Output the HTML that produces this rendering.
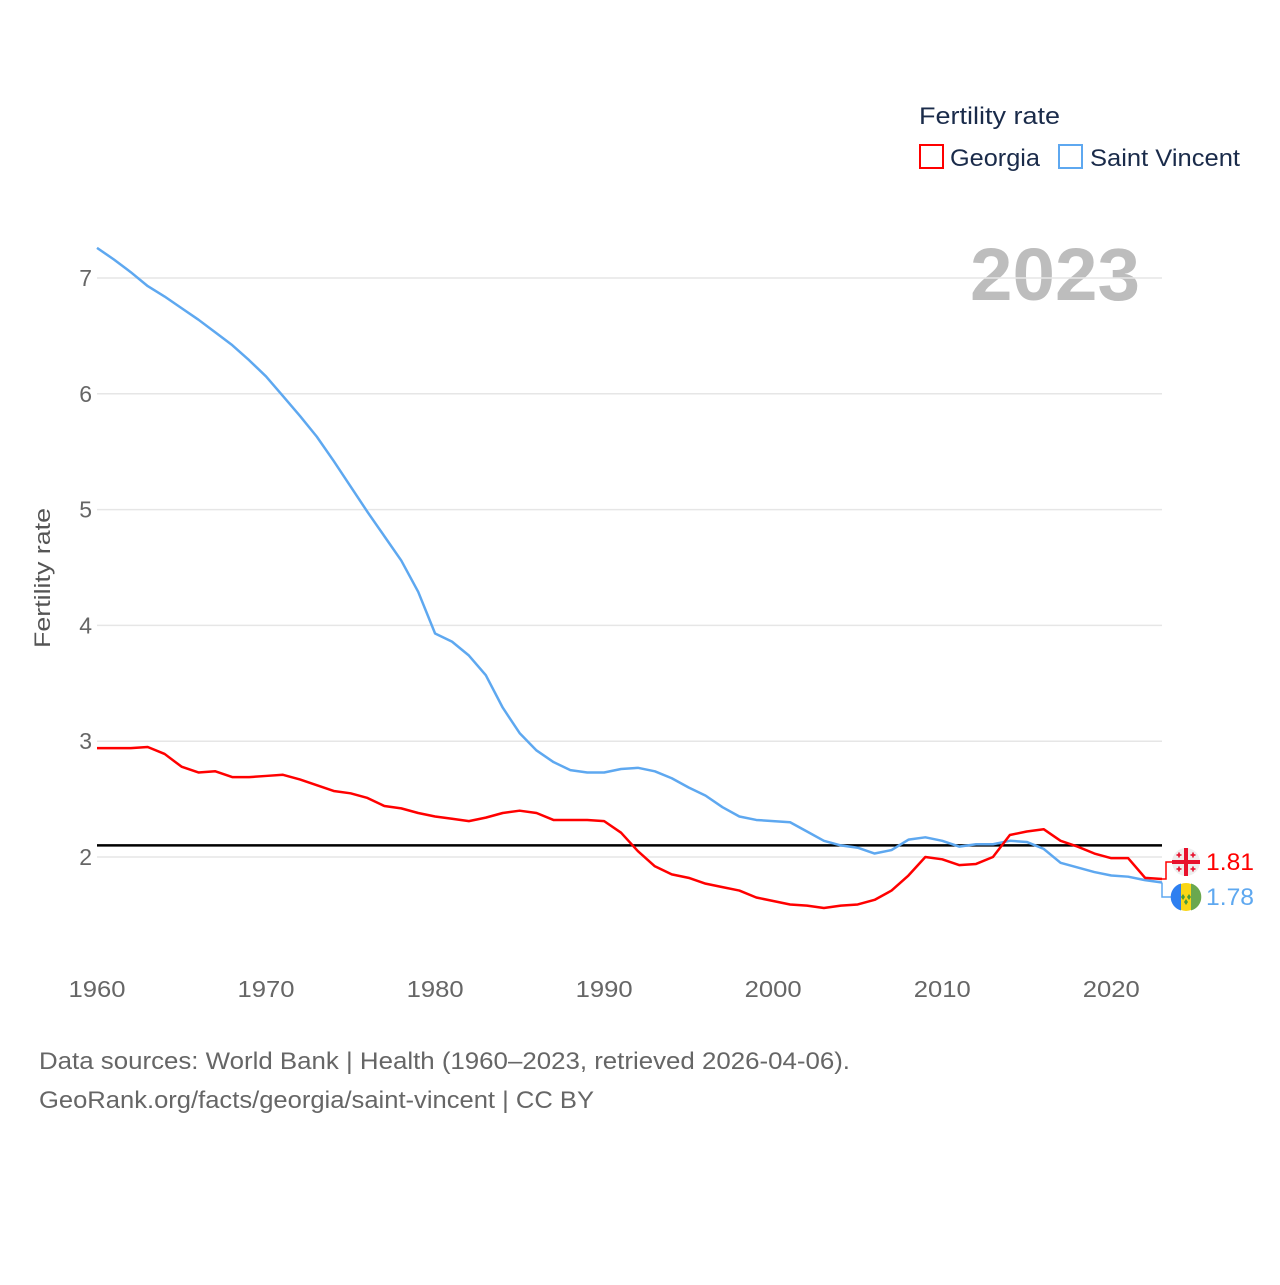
<!DOCTYPE html>
<html><head><meta charset="utf-8"><style>
body{margin:0;background:#fff;width:1280px;height:1280px;overflow:hidden;font-family:"Liberation Sans",sans-serif}
svg text{font-family:"Liberation Sans",sans-serif}
</style></head><body>
<svg id="chart" width="1280" height="1280" xmlns="http://www.w3.org/2000/svg">
<text x="1140" y="300" text-anchor="end" font-size="74" font-weight="bold" fill="#bdbdbd" textLength="170" lengthAdjust="spacingAndGlyphs">2023</text>
<g id="grid"></g>
<g id="yticks"></g>
<g id="xticks"></g>
<text transform="translate(50,578) rotate(-90)" text-anchor="middle" font-size="22" fill="#555" textLength="140" lengthAdjust="spacingAndGlyphs">Fertility rate</text>
<g id="series"></g>
<g>
<text x="919" y="124" font-size="24" fill="#1a2b4a" textLength="141" lengthAdjust="spacingAndGlyphs">Fertility rate</text>
<rect x="920" y="145" width="23" height="23" fill="none" stroke="#ff0000" stroke-width="2"/>
<text x="950" y="166" font-size="24" fill="#1a2b4a" textLength="90" lengthAdjust="spacingAndGlyphs">Georgia</text>
<rect x="1059" y="145" width="23" height="23" fill="none" stroke="#5ea8f0" stroke-width="2"/>
<text x="1090" y="166" font-size="24" fill="#1a2b4a" textLength="150" lengthAdjust="spacingAndGlyphs">Saint Vincent</text>
</g>
<text x="39" y="1069" font-size="24" fill="#666" textLength="811" lengthAdjust="spacingAndGlyphs">Data sources: World Bank | Health (1960–2023, retrieved 2026-04-06).</text>
<text x="39" y="1108" font-size="24" fill="#666" textLength="555" lengthAdjust="spacingAndGlyphs">GeoRank.org/facts/georgia/saint-vincent | CC BY</text>
</svg>
<script>
const years = [];
for (let y = 1960; y <= 2023; y++) years.push(y);
const georgia = [2.94,2.94,2.94,2.95,2.89,2.78,2.73,2.74,2.69,2.69,2.70,2.71,2.67,2.62,2.57,2.55,2.51,2.44,2.42,2.38,2.35,2.33,2.31,2.34,2.38,2.40,2.38,2.32,2.32,2.32,2.31,2.21,2.05,1.92,1.85,1.82,1.77,1.74,1.71,1.65,1.62,1.59,1.58,1.56,1.58,1.59,1.63,1.71,1.84,2.00,1.98,1.93,1.94,2.00,2.19,2.22,2.24,2.14,2.09,2.03,1.99,1.99,1.82,1.81];
const saintVincent = [7.26,7.16,7.05,6.93,6.84,6.74,6.64,6.53,6.42,6.29,6.15,5.98,5.81,5.63,5.42,5.20,4.98,4.77,4.56,4.29,3.93,3.86,3.74,3.57,3.29,3.07,2.92,2.82,2.75,2.73,2.73,2.76,2.77,2.74,2.68,2.60,2.53,2.43,2.35,2.32,2.31,2.30,2.22,2.14,2.10,2.08,2.03,2.06,2.15,2.17,2.14,2.09,2.11,2.11,2.14,2.13,2.07,1.95,1.91,1.87,1.84,1.83,1.80,1.78];
const yTicks = [2,3,4,5,6,7];
const xTicks = [1960,1970,1980,1990,2000,2010,2020];
const replacementRate = 2.1;
const NS = "http://www.w3.org/2000/svg";
const X0 = 97, X1 = 1162;
const xS = y => X0 + (y - 1960) * (X1 - X0) / (2023 - 1960);
const yS = v => 857 - (v - 2) * 115.8;
function mk(tag, attrs, parent) { const e = document.createElementNS(NS, tag); for (const k in attrs) e.setAttribute(k, attrs[k]); parent.appendChild(e); return e; }
const grid = document.getElementById('grid'), yt = document.getElementById('yticks'), xt = document.getElementById('xticks'), ser = document.getElementById('series');
yTicks.forEach(t => {
  const l = mk('line', {x1: X0, x2: X1, y1: yS(t), y2: yS(t), stroke: '#e6e6e6', 'stroke-width': 1.5}, grid);
  
  
  const tx = mk('text', {x: 92, y: yS(t) + 8, 'text-anchor': 'end', 'font-size': 23, fill: '#666'}, yt);
  tx.textContent = t;
  
  
});
xTicks.forEach(t => {
  const tx = mk('text', {x: xS(t), y: 997, 'text-anchor': 'middle', 'font-size': 23, fill: '#666', textLength: 57, lengthAdjust: 'spacingAndGlyphs'}, xt);
  tx.textContent = t;
  
  
});
const ref = mk('line', {x1: X0, x2: X1, y1: yS(replacementRate), y2: yS(replacementRate), stroke: '#000', 'stroke-width': 2.5}, ser);


function line(data, color, name) {
  const p = mk('polyline', {points: data.map((v, i) => xS(years[i]) + ',' + yS(v)).join(' '), fill: 'none', stroke: color, 'stroke-width': 2.5, 'stroke-linejoin': 'round'}, ser);
  
  
}
line(saintVincent, '#5ea8f0', 'line-saint-vincent');
line(georgia, '#ff0000', 'line-georgia');
const gLast = georgia[georgia.length - 1], sLast = saintVincent[saintVincent.length - 1];
const gy = 862, sy = 897;
const c1 = mk('polyline', {points: `${X1},${yS(gLast)} ${X1+4},${yS(gLast)} ${X1+4},${gy} ${X1+10},${gy}`, fill: 'none', stroke: '#ff0000', 'stroke-width': 1.5}, ser);


const c2 = mk('polyline', {points: `${X1},${yS(sLast)} ${X1},${sy} ${X1+10},${sy}`, fill: 'none', stroke: '#5ea8f0', 'stroke-width': 1.5}, ser);


const f1 = mk('g', {}, ser);


mk('circle', {cx: 1186, cy: gy, r: 14, fill: '#eee'}, f1);
mk('rect', {x: 1172, y: gy - 2, width: 28, height: 4, fill: '#e8112d'}, f1);
mk('rect', {x: 1184, y: gy - 14, width: 4, height: 28, fill: '#e8112d'}, f1);
[[-7,-7],[7,-7],[-7,7],[7,7]].forEach(d => { mk('rect', {x: 1186 + d[0] - 2.5, y: gy + d[1] - 0.8, width: 5, height: 1.6, fill: '#e8112d'}, f1); mk('rect', {x: 1186 + d[0] - 0.8, y: gy + d[1] - 2.5, width: 1.6, height: 5, fill: '#e8112d'}, f1); });
const f2 = mk('g', {}, ser);


mk('circle', {cx: 1186, cy: sy, r: 14, fill: '#f9d616'}, f2);
mk('path', {d: `M1181,${sy-13.5} A14,14 0 0 0 1181,${sy+13.5} Z`, fill: '#2e7ff0'}, f2);
mk('path', {d: `M1191,${sy-13.5} A14,14 0 0 1 1191,${sy+13.5} Z`, fill: '#6aa84f'}, f2);
mk('path', {d: `M1183,${sy-3} l2,3 l-2,3 l-2,-3z M1189,${sy-3} l2,3 l-2,3 l-2,-3z M1186,${sy+2} l2,3 l-2,3 l-2,-3z`, fill: '#4a9a3a'}, f2);
const t1 = mk('text', {x: 1206, y: gy + 8, 'font-size': 24, fill: '#ff0000', textLength: 48, lengthAdjust: 'spacingAndGlyphs'}, ser);
t1.textContent = gLast.toFixed(2);


const t2 = mk('text', {x: 1206, y: sy + 8, 'font-size': 24, fill: '#5ea8f0', textLength: 48, lengthAdjust: 'spacingAndGlyphs'}, ser);
t2.textContent = sLast.toFixed(2);


</script>
</body></html>
